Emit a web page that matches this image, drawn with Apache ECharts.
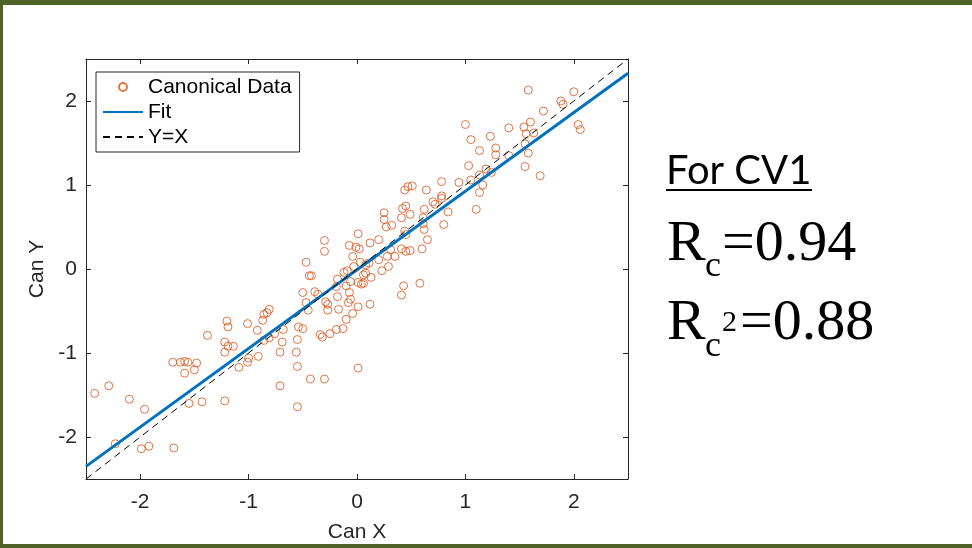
<!DOCTYPE html>
<html>
<head>
<meta charset="utf-8">
<script src="https://cdn.jsdelivr.net/npm/echarts@6/dist/echarts.min.js"></script>
<style>
html,body{margin:0;padding:0;background:#fff;}
#chart{width:972px;height:548px;}
</style>
</head>
<body>
<div id="chart"></div>
<script>
// Tick values
const xTicks = [-2, -1, 0, 1, 2];
const yTicks = [-2, -1, 0, 1, 2];

// Canonical data
const canX = [-2.42,-2.29,-2.10,-1.96,-2.23,-1.99,-1.92,-1.69,-1.70,-1.63,-1.59,-1.56,-1.48,-1.59,-1.50,-1.55,-1.43,-1.22,-1.38,-1.22,
-1.22,-1.19,-1.20,-1.19,-1.14,-1.09,-1.01,-1.00,-0.91,-1.01,-0.92,-0.87,-0.86,-0.83,-0.81,-0.86,-0.81,-0.76,-0.69,-0.68,
-0.71,-0.71,-0.56,-0.55,-0.55,-0.54,-0.50,-0.55,-0.47,-0.50,-0.45,-0.47,-0.44,-0.42,-0.43,-0.39,-0.36,-0.34,-0.32,-0.30,
-0.30,-0.30,-0.29,-0.27,-0.27,-0.25,-0.19,-0.13,-0.17,-0.18,-0.12,-0.09,-0.10,-0.08,-0.07,-0.06,-0.04,-0.10,-0.04,-0.03,
0.01,0.01,-0.07,-0.01,0.02,0.01,0.03,0.06,0.08,0.11,0.06,0.13,0.12,0.20,0.20,0.23,0.29,0.28,0.35,0.31,
0.12,0.01,0.43,0.41,0.58,0.04,0.25,0.25,0.27,0.32,0.44,0.45,0.41,0.45,0.49,0.44,0.47,0.51,0.64,0.49,
0.45,0.42,0.41,0.62,0.61,0.61,0.62,0.65,0.60,0.70,0.72,0.78,0.78,0.84,0.80,0.78,0.94,1.00,1.05,1.03,
1.05,1.13,1.19,1.24,1.16,1.13,1.10,1.13,1.23,1.28,1.28,1.40,1.40,1.54,1.60,1.56,1.63,1.55,1.58,1.55,
1.69,1.72,1.58,1.88,1.90,2.00,2.04,2.06,-0.19,-0.18,-0.06,0.08];
const canY = [-1.48,-1.39,-1.55,-1.67,-2.08,-2.14,-2.11,-2.13,-1.11,-1.11,-1.10,-1.11,-1.12,-1.24,-1.20,-1.60,-1.58,-1.57,-0.79,-0.99,
-0.87,-0.69,-0.62,-0.92,-0.92,-1.17,-1.11,-1.06,-1.04,-0.65,-0.73,-0.61,-0.54,-0.52,-0.48,-0.85,-0.82,-0.77,-0.87,-0.72,
-0.99,-1.39,-0.99,-0.84,-1.16,-0.69,-0.71,-1.64,-0.40,-0.28,-0.49,0.08,-0.08,-0.08,-1.31,-0.27,-0.30,-0.78,-0.81,-1.31,
0.34,0.21,-0.39,-0.42,-0.49,-0.77,-0.72,-0.71,-0.48,-0.12,-0.04,-0.02,-0.20,-0.40,-0.28,-0.15,-0.53,-0.60,0.15,0.03,
-0.16,-1.18,0.28,0.26,0.24,0.42,0.08,-0.17,-0.05,0.07,-0.07,-0.10,0.31,0.35,0.11,-0.02,0.03,0.15,0.15,0.23,
-0.42,-0.45,-0.20,-0.31,-0.17,-0.18,0.67,0.59,0.50,0.52,0.45,0.41,0.24,0.21,0.22,0.94,0.98,0.99,0.94,0.65,
0.75,0.72,0.61,0.71,0.61,0.54,0.47,0.35,0.24,0.80,0.77,0.87,0.84,0.68,0.53,1.04,1.03,1.72,1.54,1.23,
1.06,1.12,1.19,1.15,1.00,0.91,0.71,1.41,1.58,1.44,1.36,1.35,1.68,1.69,1.75,1.61,1.62,1.49,1.38,1.22,
1.11,1.88,2.13,2.00,1.96,2.11,1.72,1.66,-0.21,-0.33,-0.36,0.05];

// Fit line endpoints and Y=X reference
const fitX = [-2.5, 2.5];
const fitY = [-2.35, 2.33];
const refX = [-2.5, 2.5];
const refY = [-2.5, 2.5];

const scatterData = canX.map((v, i) => [v, canY[i]]);
const fitData = fitX.map((v, i) => [v, fitY[i]]);
const refData = refX.map((v, i) => [v, refY[i]]);

const axisColor = '#262626';
const lblFont = 'Liberation Sans';
const chart = echarts.init(document.getElementById('chart'), null, {renderer: 'canvas'});

function mkAxis(pos, ticks, withLabel, margin, extra) {
  return Object.assign({
    type: 'value', min: -2.5, max: 2.5, position: pos,
    axisLine: {show: true, onZero: false, lineStyle: {color: axisColor, width: 1}},
    axisTick: {show: true, inside: true, length: 5, customValues: ticks, lineStyle: {color: axisColor, width: 1}},
    axisLabel: {show: withLabel, customValues: ticks, fontSize: 21, color: axisColor, fontFamily: lblFont, margin: margin},
    splitLine: {show: false}
  }, extra || {});
}

const noSym = {color: 'transparent', borderWidth: 0, opacity: 0};

const option = {
  animation: false,
  backgroundColor: '#fff',
  grid: {left: 86, right: 344, top: 59, bottom: 68, containLabel: false},
  xAxis: [
    mkAxis('bottom', xTicks, true, 13, {name: 'Can X', nameLocation: 'middle', nameGap: 43,
      nameTextStyle: {fontSize: 21, color: axisColor, fontFamily: lblFont}}),
    mkAxis('top', xTicks, false, 8)
  ],
  yAxis: [
    mkAxis('left', yTicks, true, 9, {name: 'Can Y', nameLocation: 'middle', nameGap: 38,
      nameTextStyle: {fontSize: 21, color: axisColor, fontFamily: lblFont}}),
    mkAxis('right', yTicks, false, 8)
  ],
  legend: {
    data: ['Canonical Data', {name: 'Fit', itemStyle: noSym}, {name: 'Y=X', itemStyle: noSym}],
    orient: 'vertical', left: 96, top: 72,
    padding: [4, 8, 4, 6], itemGap: 3, itemWidth: 40, itemHeight: 8,
    borderColor: axisColor, borderWidth: 1, borderRadius: 0, backgroundColor: '#fff',
    textStyle: {fontSize: 21, color: '#000', fontFamily: lblFont, lineHeight: 22}
  },
  series: [
    {
      name: 'Canonical Data', type: 'scatter', data: scatterData,
      symbol: 'circle', symbolSize: 8,
      itemStyle: {color: 'transparent', borderColor: '#D95319', borderWidth: 1}
    },
    {
      name: 'Fit', type: 'line', data: fitData, symbol: 'none', showSymbol: false,
      lineStyle: {color: '#0072BD', width: 3}, itemStyle: {color: '#0072BD'}
    },
    {
      name: 'Y=X', type: 'line', data: refData, symbol: 'none', showSymbol: false,
      lineStyle: {color: '#000', width: 1, type: [7, 5]}, itemStyle: {color: '#000'}
    }
  ],
  graphic: [
    {type: 'rect', shape: {x: 0, y: 0, width: 972, height: 5}, style: {fill: '#4F6228'}},
    {type: 'rect', shape: {x: 0, y: 0, width: 3, height: 548}, style: {fill: '#4F6228'}},
    {type: 'rect', shape: {x: 0, y: 544, width: 972, height: 4}, style: {fill: '#4F6228'}},
    {type: 'text', x: 666, y: 171, style: {text: 'For CV1', font: '40px Lato', fill: '#000', verticalAlign: 'middle'}},
    {type: 'line', shape: {x1: 666, y1: 190, x2: 812, y2: 190}, style: {stroke: '#000', lineWidth: 2}},
    {type: 'text', x: 667, y: 245, style: {text: 'R', font: '58px "Liberation Serif"', fill: '#000', verticalAlign: 'middle'}},
    {type: 'text', x: 705, y: 267, style: {text: 'c', font: '36px "Liberation Serif"', fill: '#000', verticalAlign: 'middle'}},
    {type: 'text', x: 722, y: 245, style: {text: '=0.94', font: '58px "Liberation Serif"', fill: '#000', verticalAlign: 'middle'}},
    {type: 'text', x: 667, y: 324, style: {text: 'R', font: '58px "Liberation Serif"', fill: '#000', verticalAlign: 'middle'}},
    {type: 'text', x: 705, y: 347, style: {text: 'c', font: '36px "Liberation Serif"', fill: '#000', verticalAlign: 'middle'}},
    {type: 'text', x: 722, y: 323, style: {text: '2', font: '30px "Liberation Serif"', fill: '#000', verticalAlign: 'middle'}},
    {type: 'text', x: 740, y: 324, style: {text: '=0.88', font: '58px "Liberation Serif"', fill: '#000', verticalAlign: 'middle'}}
  ]
};
chart.setOption(option);
</script>
</body>
</html>
